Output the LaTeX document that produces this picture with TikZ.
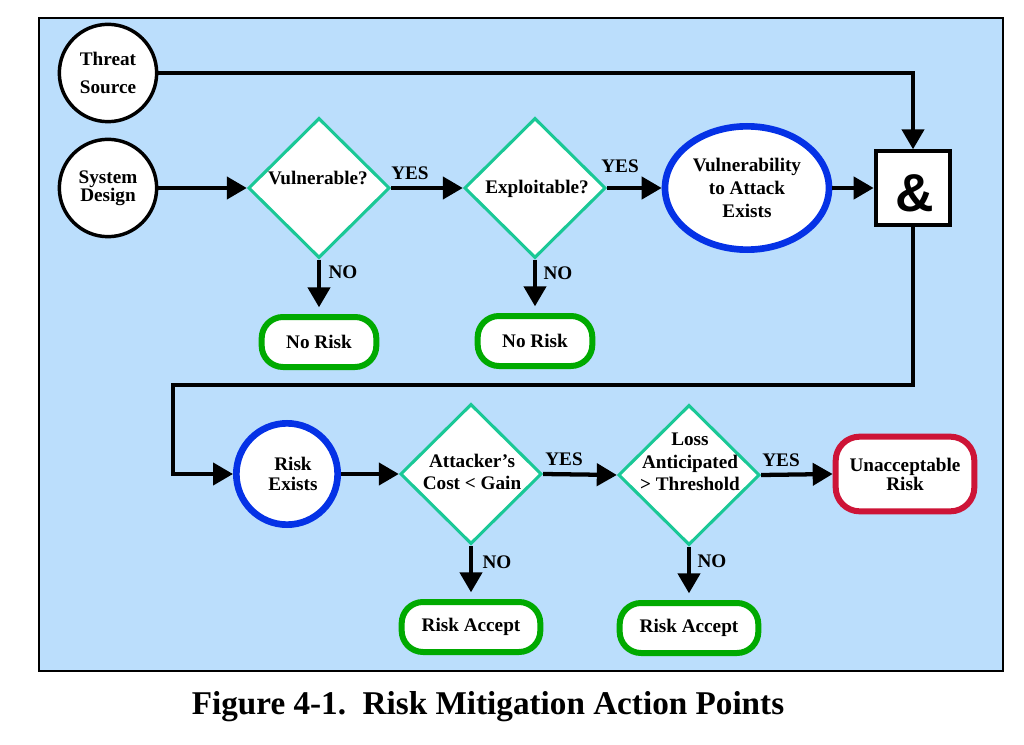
\documentclass[tikz,border=0pt]{standalone}
\usepackage{fontspec}
\setmainfont{Liberation Serif}
\newfontfamily\ampfont{Liberation Sans}
\usetikzlibrary{shapes.geometric,arrows.meta}
\definecolor{bgblue}{RGB}{187,222,252}
\definecolor{dteal}{RGB}{26,200,150}
\definecolor{eblue}{RGB}{5,50,230}
\definecolor{bgreen}{RGB}{0,170,0}
\definecolor{ured}{RGB}{205,20,55}
\begin{document}
\begin{tikzpicture}[x=0.75pt,y=-0.75pt,
  txt/.style={font=\bfseries\fontsize{14.4}{17}\selectfont, align=center, inner sep=0pt},
  circ/.style={circle, draw=black, line width=2.6pt, fill=white, minimum size=73pt, inner sep=0pt, txt},
  dia/.style={diamond, draw=dteal, line width=2.3pt, fill=white, inner sep=0pt, minimum width=106pt, minimum height=105pt},
  term/.style={rectangle, rounded corners=16pt, draw=bgreen, line width=4.5pt, fill=white, inner sep=0pt, txt},
  conn/.style={line width=3.2pt, -{Triangle[length=15pt,width=16.5pt]}},
  down/.style={conn, shorten >=5pt}
]
\useasboundingbox (0,0) rectangle (1024,745);
\draw[line width=1.5pt, fill=bgblue] (39,18) rectangle (1003,671);

% top row
\node[circ] (ts) at (108,73) {Threat\\[4pt]Source};
\node[circ] (sd) at (108,188) {System\\[-3.5pt]Design};
\node[dia] (vul) at (319,188) {};
\node[txt] (vult) at (318,178) {Vulnerable?};
\node[dia] (exp) at (535,188) {};
\node[txt] (expt) at (537,189) {Exploitable?};
\node[ellipse, draw=eblue, line width=5pt, fill=white, minimum width=123pt, minimum height=92.5pt, inner sep=0pt, txt] (vae) at (747,188) {Vulnerability\\to Attack\\Exists};
\node[rectangle, draw=black, line width=3pt, fill=white, minimum width=56pt, minimum height=55pt, inner sep=0pt] (amp) at (913,188) {};
\node[inner sep=0pt, font=\ampfont\bfseries\fontsize{40}{40}\selectfont] (ampt) at (915,193) {\&};
\node[term, minimum width=86pt, minimum height=37.5pt] (nr1) at (319,342) {No Risk};
\node[term, minimum width=86pt, minimum height=37.5pt] (nr2) at (535,341) {No Risk};

% bottom row
\coordinate (k) at (173,385);
\node[circ, draw=eblue, line width=5pt, minimum size=76pt] (re) at (287,474) {\hspace*{9pt}Risk\\[-2pt]\hspace*{9pt}Exists};
\node[dia] (acg) at (471,474) {};
\node[txt] (acgt) at (472,472) {Attacker’s\\Cost < Gain};
\node[dia] (lat) at (689,475) {};
\node[txt] (latt) at (690,462) {Loss\\Anticipated\\> Threshold};
\node[term, draw=ured, rounded corners=18pt, minimum width=104pt, minimum height=56pt] (ur) at (905,474) {Unacceptable\\[-2.7pt]Risk};
\node[term, minimum width=104pt, minimum height=37.5pt] (ra1) at (471,627) {Risk Accept};
\node[term, minimum width=104pt, minimum height=37.5pt] (ra2) at (689,628) {Risk Accept};

% connectors
\draw[conn] (ts.east) -| (amp.north);
\draw[conn] (sd.east) -- (vul.west);
\draw[conn] (vul.east) -- (exp.west);
\draw[conn] (exp.east) -- (vae.west);
\draw[conn] (vae.east) -- (amp.west);
\draw[down] (vul.south) -- (nr1.north);
\draw[down] (exp.south) -- (nr2.north);
\draw[conn] (amp.south) |- (k) |- (re.west);
\draw[conn] (re.east) -- (acg.west);
\draw[conn] (acg.east) -- (lat.west);
\draw[conn] (lat.east) -- (ur.west);
\draw[down] (acg.south) -- (ra1.north);
\draw[down] (lat.south) -- (ra2.north);

% labels
\node[txt] (y1) at (410,173) {YES};
\node[txt] (y2) at (620,166) {YES};
\node[txt] (y3) at (564,459) {YES};
\node[txt] (y4) at (781,460) {YES};
\node[txt] (n1) at (343,272) {NO};
\node[txt] (n2) at (558,273) {NO};
\node[txt] (n3) at (497,562) {NO};
\node[txt] (n4) at (712,561) {NO};

% caption
\node[font=\bfseries\fontsize{24.9}{28}\selectfont, inner sep=0pt] (cap) at (488,707) {Figure 4-1.\ \ Risk Mitigation Action Points};
\end{tikzpicture}
\end{document}
